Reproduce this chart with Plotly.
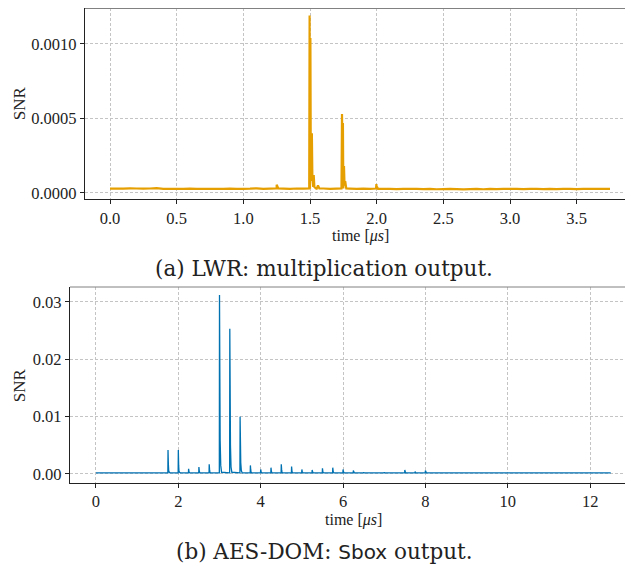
import plotly.graph_objects as go

# ---------------- data: (a) LWR multiplication output ----------------
lwr_base_step = 0.05  # us between baseline readings
lwr_baseline = [
    2.9e-5, 3.0e-5, 2.9e-5, 3.1e-5, 3.0e-5, 2.9e-5, 3.0e-5, 3.2e-5, 2.8e-5, 2.7e-5,
    2.8e-5, 2.7e-5, 2.9e-5, 2.8e-5, 2.7e-5, 2.8e-5, 2.7e-5, 2.8e-5, 2.9e-5, 2.7e-5,
    2.8e-5, 2.9e-5, 3.1e-5, 2.8e-5, 2.9e-5, 3.0e-5, 2.9e-5, 2.8e-5, 3.0e-5, 2.9e-5,
    2.8e-5, 2.9e-5, 3.0e-5, 2.8e-5, 2.9e-5, 3.0e-5, 2.9e-5, 2.8e-5, 2.9e-5, 2.8e-5,
    2.8e-5, 2.7e-5, 2.8e-5, 2.6e-5, 2.7e-5, 2.8e-5, 2.7e-5, 2.6e-5, 2.7e-5, 2.5e-5,
    2.6e-5, 2.8e-5, 2.6e-5, 2.4e-5, 2.6e-5, 2.7e-5, 2.5e-5, 2.7e-5, 2.6e-5, 2.7e-5,
    2.8e-5, 2.7e-5, 2.6e-5, 2.7e-5, 2.8e-5, 2.6e-5, 2.7e-5, 2.6e-5, 2.8e-5, 2.7e-5,
    2.6e-5, 2.7e-5, 2.8e-5, 2.7e-5, 2.8e-5, 2.7e-5,
]
lwr_peak_time = [
    1.245, 1.250, 1.255, 1.262,
    1.494, 1.497, 1.500, 1.503, 1.506, 1.510, 1.514, 1.518, 1.524, 1.528, 1.533, 1.545, 1.560, 1.570,
    1.736, 1.740, 1.744, 1.747, 1.751, 1.755, 1.759, 1.764, 1.772,
    1.995, 1.998, 2.003, 2.010,
]
lwr_peak_snr = [
    3.0e-5, 5.5e-5, 4.5e-5, 3.0e-5,
    3.0e-5, 1.19e-3, 6.0e-4, 1.04e-3, 2.0e-4, 8.0e-5, 4.0e-4, 1.0e-4, 4.0e-5, 1.2e-4, 4.0e-5, 3.0e-5, 5.0e-5, 3.0e-5,
    3.0e-5, 5.3e-4, 3.0e-4, 4.7e-4, 1.2e-4, 1.8e-4, 5.0e-5, 8.0e-5, 3.0e-5,
    3.0e-5, 6.0e-5, 4.0e-5, 2.8e-5,
]

# ---------------- data: (b) AES-DOM Sbox output ----------------
aes_t_end = 12.5
aes_baseline = 2.0e-4
aes_peak_offsets = [0.0, 0.008, 0.016, 0.03, 0.05]  # us after each peak start
aes_peak_times = [1.75, 2.0, 2.25, 2.5, 2.75, 3.0, 3.25, 3.5, 3.75, 4.0, 4.25, 4.5, 4.75,
                  5.0, 5.25, 5.5, 5.75, 6.0, 6.25, 6.5, 7.0, 7.5, 7.75, 8.0]
aes_peak_profiles = [
    [0.0042, 0.0018, 0.0006, 0.0003, 0.0002],
    [0.0042, 0.0015, 0.0005, 0.0003, 0.0002],
    [0.0009, 0.0005, 0.0003, 0.0002, 0.0002],
    [0.0012, 0.0006, 0.0003, 0.0002, 0.0002],
    [0.0017, 0.0008, 0.0004, 0.0002, 0.0002],
    [0.0312, 0.0178, 0.0058, 0.0015, 0.0003],
    [0.0253, 0.0155, 0.0050, 0.0012, 0.0003],
    [0.0100, 0.0060, 0.0020, 0.0006, 0.0002],
    [0.0015, 0.0007, 0.0004, 0.0002, 0.0002],
    [0.0008, 0.0005, 0.0003, 0.0002, 0.0002],
    [0.0011, 0.0006, 0.0003, 0.0002, 0.0002],
    [0.0017, 0.0008, 0.0004, 0.0002, 0.0002],
    [0.0013, 0.0006, 0.0003, 0.0002, 0.0002],
    [0.0008, 0.0005, 0.0003, 0.0002, 0.0002],
    [0.0007, 0.0004, 0.0003, 0.0002, 0.0002],
    [0.0010, 0.0005, 0.0003, 0.0002, 0.0002],
    [0.0011, 0.0006, 0.0003, 0.0002, 0.0002],
    [0.0008, 0.0004, 0.0003, 0.0002, 0.0002],
    [0.0006, 0.0004, 0.0003, 0.0002, 0.0002],
    [0.0003, 0.0002, 0.0002, 0.0002, 0.0002],
    [0.0003, 0.0002, 0.0002, 0.0002, 0.0002],
    [0.0007, 0.0004, 0.0003, 0.0002, 0.0002],
    [0.0004, 0.0003, 0.0002, 0.0002, 0.0002],
    [0.0006, 0.0004, 0.0003, 0.0002, 0.0002],
]

lwr_xticks = [0.0, 0.5, 1.0, 1.5, 2.0, 2.5, 3.0, 3.5]
lwr_yticks = [0.0, 0.0005, 0.0010]
lwr_yticklabels = ["0.0000", "0.0005", "0.0010"]
aes_xticks = [0, 2, 4, 6, 8, 10, 12]
aes_yticks = [0.0, 0.01, 0.02, 0.03]
aes_yticklabels = ["0.00", "0.01", "0.02", "0.03"]

caption_a = "(a) LWR: multiplication output."
caption_b = ("(b) AES-DOM: <span style=\"font-family:'DejaVu Sans';font-size:20px\">Sbox</span> output.")

# ---------------- build series ----------------
pts = [(i * lwr_base_step, v) for i, v in enumerate(lwr_baseline)]
pts += list(zip(lwr_peak_time, lwr_peak_snr))
pts.sort()
lwr_x = [p[0] for p in pts]
lwr_y = [p[1] for p in pts]

aes_x = [0.0]
aes_y = [aes_baseline]
for t, prof in zip(aes_peak_times, aes_peak_profiles):
    aes_x.append(t - 0.004)
    aes_y.append(aes_baseline)
    for off, v in zip(aes_peak_offsets, prof):
        aes_x.append(t + off)
        aes_y.append(v)
aes_x.append(aes_t_end)
aes_y.append(aes_baseline)

# ---------------- layout helpers ----------------
# the page body has an 8px margin, so the figure starts at (8, 8) of the window
OFF = 8
W, H = 633 - OFF, 570 - OFF


def px_x(p):
    return (p - OFF) / W


def px_y(p):
    return 1 - (p - OFF) / H


SERIF = "Liberation Serif, DejaVu Serif, serif"
TICKFONT = dict(family=SERIF, size=16.5, color="#222222")

fig = go.Figure()
fig.add_trace(go.Scatter(x=lwr_x, y=lwr_y, mode="lines",
                         line=dict(color="#E69F00", width=2.2, simplify=False),
                         xaxis="x", yaxis="y", showlegend=False))
fig.add_trace(go.Scatter(x=aes_x, y=aes_y, mode="lines",
                         line=dict(color="#0072B2", width=1.3, simplify=False),
                         xaxis="x2", yaxis="y2", showlegend=False))

grid = dict(showgrid=True, gridcolor="#c4c4c4", gridwidth=1, griddash="3px,2px",
            zeroline=False, showline=True, linecolor="#222222", linewidth=1.2,
            ticks="outside", ticklen=4, tickcolor="#222222", tickfont=TICKFONT)

fig.update_layout(
    xaxis=dict(domain=[px_x(85), 1.0], range=[-0.1875, 3.9225], anchor="y",
               tickvals=lwr_xticks, ticktext=[f"{v:.1f}" for v in lwr_xticks], **grid),
    yaxis=dict(domain=[px_y(200), px_y(8)], range=[-0.000038, 0.001241], anchor="x",
               tickvals=lwr_yticks, ticktext=lwr_yticklabels, **grid),
    xaxis2=dict(domain=[px_x(70), 1.0], range=[-0.63, 13.04], anchor="y2",
                tickvals=aes_xticks, ticktext=[str(v) for v in aes_xticks], **grid),
    yaxis2=dict(domain=[px_y(486), px_y(289)], range=[-0.0015, 0.0326], anchor="x2",
                tickvals=aes_yticks, ticktext=aes_yticklabels, **grid),
    width=W, height=H,
    margin=dict(l=0, r=0, t=0, b=0),
    paper_bgcolor="white", plot_bgcolor="white",
)

# top spines (light)
fig.add_shape(type="line", xref="paper", yref="paper", x0=px_x(85), x1=1.0,
              y0=px_y(8.5), y1=px_y(8.5), line=dict(color="#808080", width=1))
fig.add_shape(type="line", xref="paper", yref="paper", x0=px_x(70), x1=1.0,
              y0=px_y(289), y1=px_y(289), line=dict(color="#808080", width=1))


def ann(text, xp, yp, size, angle=0, family=SERIF):
    fig.add_annotation(text=text, xref="paper", yref="paper", x=px_x(xp), y=px_y(yp),
                       showarrow=False, textangle=angle, xanchor="center", yanchor="middle",
                       font=dict(family=family, size=size, color="#222222"))


ann("SNR", 19, 104, 17, -90)
ann("SNR", 19, 388, 17, -90)
ann("time [<i>μs</i>]", 360, 238, 16)
ann("time [<i>μs</i>]", 353, 524, 16)
ann(caption_a, 324, 270, 21.5, family="DejaVu Serif, serif")
ann(caption_b, 324, 555, 21.5, family="DejaVu Serif, serif")

fig.write_html("out.html")
